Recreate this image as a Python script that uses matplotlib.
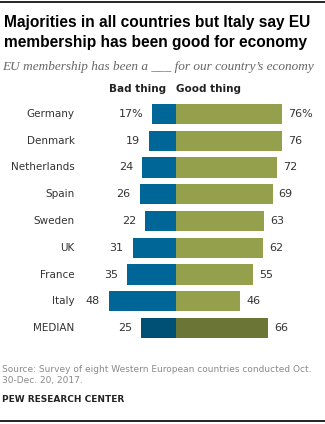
import matplotlib
matplotlib.use("Agg")
import matplotlib.pyplot as plt
from matplotlib.lines import Line2D

countries = ["Germany", "Denmark", "Netherlands", "Spain", "Sweden", "UK", "France", "Italy", "MEDIAN"]
bad = [17, 19, 24, 26, 22, 31, 35, 48, 25]
good = [76, 76, 72, 69, 63, 62, 55, 46, 66]

BLUE, OLIVE = "#006597", "#95A04C"
BLUE_MED, OLIVE_MED = "#004F74", "#6B7536"
TXT = "#333333"
GREY = "#8a8a8a"

W, H = 325, 424
PX_PER_UNIT = 1.4
ZERO_X = 176
ROW0, ROW_STEP = 114, 26.75

fig = plt.figure(figsize=(W / 100, H / 100), dpi=100)
ax = fig.add_axes([0, 0, 1, 1])
ax.set_xlim(-ZERO_X / PX_PER_UNIT, (W - ZERO_X) / PX_PER_UNIT)
ax.set_ylim((H - ROW0) / ROW_STEP, -ROW0 / ROW_STEP)
ax.axis("off")

def fx(px):
    return px / W

def fy(py):
    return 1 - py / H

ys = list(range(len(countries)))
n = len(countries)
bcol = [BLUE] * (n - 1) + [BLUE_MED]
gcol = [OLIVE] * (n - 1) + [OLIVE_MED]
ax.barh(ys, [-b for b in bad], height=0.75, color=bcol, linewidth=0)
ax.barh(ys, good, height=0.75, color=gcol, linewidth=0)

for i, (c, b, g) in enumerate(zip(countries, bad, good)):
    sb = f"{b}%" if i == 0 else str(b)
    sg = f"{g}%" if i == 0 else str(g)
    ax.text(-b - 9 / PX_PER_UNIT, i, sb, ha="right", va="center", fontsize=8, color=TXT)
    ax.text(g + 6 / PX_PER_UNIT, i, sg, ha="left", va="center", fontsize=8, color=TXT)
    ax.text((74.5 - ZERO_X) / PX_PER_UNIT, i, c, ha="right", va="center", fontsize=7.5, color=TXT)

# column headers
fig.text(fx(138), fy(89), "Bad thing", ha="center", va="center", fontsize=7.5, fontweight="bold", color="#222222")
fig.text(fx(209), fy(89), "Good thing", ha="center", va="center", fontsize=7.5, fontweight="bold", color="#222222")

# title block
fig.text(fx(4), fy(23), "Majorities in all countries but Italy say EU", ha="left", va="center",
         fontsize=11.2, fontweight="bold", color="black", family="Liberation Sans")
fig.text(fx(4), fy(43), "membership has been good for economy", ha="left", va="center",
         fontsize=11.2, fontweight="bold", color="black", family="Liberation Sans")
fig.text(fx(2), fy(67), "EU membership has been a ___ for our country\u2019s economy", ha="left", va="center",
         fontsize=9.5, style="italic", color="#666666", family="Liberation Serif")

# footer
fig.text(fx(2), fy(369), "Source: Survey of eight Western European countries conducted Oct.", ha="left",
         va="center", fontsize=6.5, color=GREY)
fig.text(fx(2), fy(381), "30-Dec. 20, 2017.", ha="left", va="center", fontsize=6.5, color=GREY)
fig.text(fx(2), fy(400), "PEW RESEARCH CENTER", ha="left", va="center", fontsize=6.5, fontweight="bold", color="#222222")

fig.add_artist(Line2D([0, 1], [fy(2), fy(2)], color="black", linewidth=1.2, transform=fig.transFigure))
fig.add_artist(Line2D([0, 1], [fy(421), fy(421)], color="black", linewidth=1.2, transform=fig.transFigure))

fig.savefig("out.png", dpi=100)
